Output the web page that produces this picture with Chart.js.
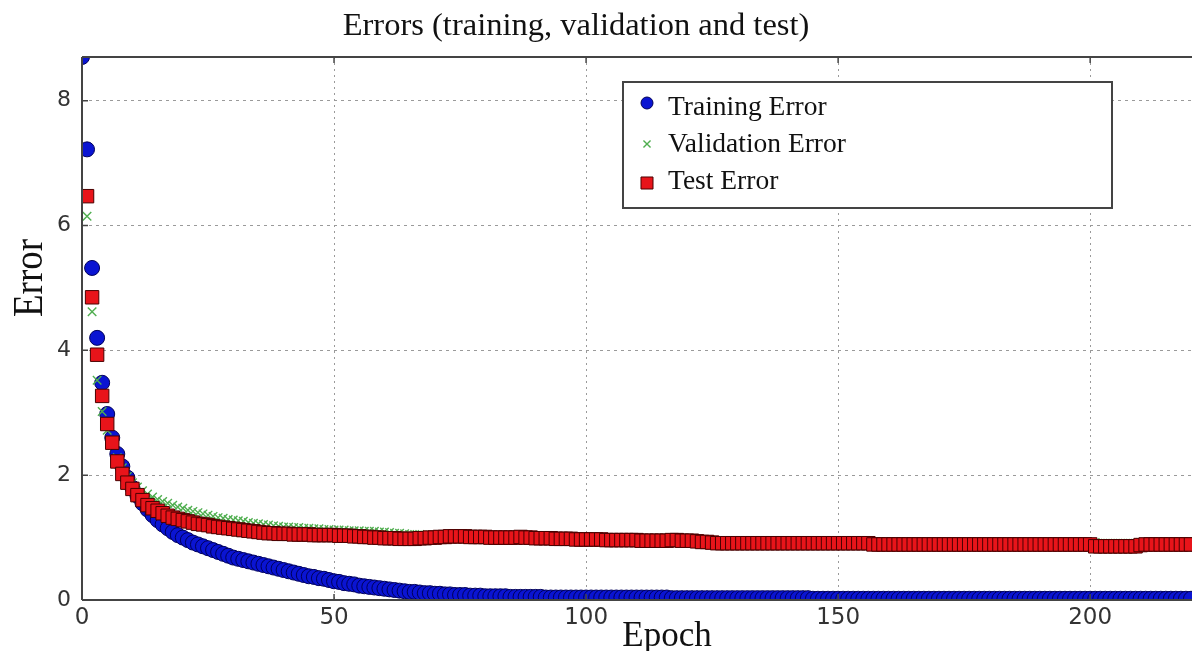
<!DOCTYPE html>
<html><head><meta charset="utf-8">
<style>html,body{margin:0;padding:0;background:#fff;overflow:hidden}canvas{display:block}</style>
<script src="https://cdn.jsdelivr.net/npm/chart.js@4.4.1/dist/chart.umd.min.js"></script>
</head><body>
<canvas id="c" width="1192" height="651"></canvas>
<script>
const chartTitle = 'Errors (training, validation and test)';
const xAxisTitle = 'Epoch';
const yAxisTitle = 'Error';
const seriesLabels = ['Training Error', 'Validation Error', 'Test Error'];
const xTickStep = 50;
const yTickStep = 2;

const trainingError = [
8.70,7.22,5.32,4.20,3.48,2.98,2.60,2.34,2.14,1.96,
1.80,1.67,1.55,1.45,1.36,1.28,1.21,1.15,1.09,1.04,
1.00,0.96,0.92,0.89,0.86,0.83,0.80,0.77,0.74,0.71,
0.68,0.66,0.64,0.62,0.60,0.58,0.56,0.54,0.52,0.50,
0.48,0.46,0.44,0.42,0.40,0.38,0.37,0.35,0.34,0.32,
0.30,0.29,0.27,0.26,0.25,0.23,0.22,0.21,0.20,0.19,
0.18,0.17,0.16,0.15,0.14,0.13,0.13,0.12,0.11,0.11,
0.10,0.10,0.09,0.09,0.08,0.08,0.08,0.07,0.07,0.07,
0.06,0.06,0.06,0.06,0.06,0.05,0.05,0.05,0.05,0.05,
0.05,0.05,0.04,0.04,0.04,0.04,0.04,0.04,0.04,0.04,
0.04,0.04,0.04,0.04,0.04,0.04,0.04,0.04,0.04,0.04,
0.04,0.04,0.04,0.04,0.04,0.04,0.04,0.03,0.03,0.03,
0.03,0.03,0.03,0.03,0.03,0.03,0.03,0.03,0.03,0.03,
0.03,0.03,0.03,0.03,0.03,0.03,0.03,0.03,0.03,0.03,
0.03,0.03,0.03,0.03,0.03,0.02,0.02,0.02,0.02,0.02,
0.02,0.02,0.02,0.02,0.02,0.02,0.02,0.02,0.02,0.02,
0.02,0.02,0.02,0.02,0.02,0.02,0.02,0.02,0.02,0.02,
0.02,0.02,0.02,0.02,0.02,0.02,0.02,0.02,0.02,0.02,
0.02,0.02,0.02,0.02,0.02,0.02,0.02,0.02,0.02,0.02,
0.02,0.02,0.02,0.02,0.02,0.02,0.02,0.02,0.02,0.02,
0.02,0.02,0.02,0.02,0.02,0.02,0.02,0.02,0.02,0.02,
0.02,0.02,0.02,0.02,0.02,0.02,0.02,0.02,0.02,0.02,
0.02
];

const validationError = [
null,6.15,4.62,3.52,3.02,2.72,2.48,2.28,2.12,1.98,
1.88,1.81,1.75,1.70,1.65,1.61,1.58,1.55,1.52,1.49,
1.47,1.44,1.42,1.40,1.38,1.36,1.34,1.32,1.31,1.29,
1.28,1.27,1.26,1.24,1.23,1.22,1.21,1.20,1.19,1.18,
1.17,1.17,1.16,1.16,1.15,1.15,1.14,1.14,1.13,1.13,
1.12,1.12,1.12,1.11,1.11,1.11,1.10,1.10,1.10,1.09,
1.09,1.08,1.07,1.07,1.06,1.05,1.05,1.05,1.04,1.04,
1.04,1.04,1.04,1.04,1.04,1.04,1.03,1.03,1.03,1.03,
1.03,1.03,1.02,1.02,1.02,1.02,1.02,1.02,1.01,1.01,
1.01,1.01,1.01,1.00,1.00,1.00,1.00,1.00,0.99,0.99,
0.99,0.99,0.99,0.99,0.98,0.98,0.98,0.98,0.98,0.98,
0.98,0.97,0.97,0.97,0.97,0.97,0.97,0.97,0.97,0.96,
0.96,0.96,0.96,0.95,0.95,0.95,0.95,0.95,0.95,0.95,
0.95,0.95,0.95,0.94,0.94,0.94,0.94,0.94,0.94,0.94,
0.94,0.94,0.94,0.94,0.94,0.93,0.93,0.93,0.93,0.93,
0.93,0.93,0.93,0.93,0.93,0.93,0.93,0.93,0.93,0.93,
0.93,0.93,0.93,0.93,0.93,0.93,0.93,0.93,0.93,0.93,
0.93,0.93,0.93,0.93,0.93,0.93,0.93,0.93,0.93,0.93,
0.93,0.93,0.93,0.93,0.93,0.92,0.92,0.92,0.92,0.92,
0.92,0.92,0.92,0.92,0.92,0.92,0.92,0.92,0.92,0.92,
0.92,0.92,0.91,0.91,0.91,0.91,0.91,0.91,0.91,0.91,
0.92,0.92,0.92,0.92,0.92,0.92,0.92,0.92,0.92,0.92,
0.92
];

const testError = [
null,6.47,4.85,3.93,3.27,2.82,2.52,2.22,2.02,1.88,
1.78,1.68,1.60,1.52,1.47,1.43,1.39,1.35,1.32,1.30,
1.28,1.26,1.24,1.22,1.21,1.20,1.18,1.17,1.16,1.15,
1.14,1.13,1.12,1.11,1.10,1.09,1.08,1.07,1.07,1.06,
1.06,1.06,1.05,1.05,1.05,1.05,1.04,1.04,1.04,1.04,
1.04,1.03,1.03,1.03,1.02,1.02,1.01,1.01,1.00,1.00,
0.99,0.99,0.99,0.98,0.98,0.98,0.98,0.99,0.99,1.00,
1.00,1.01,1.01,1.02,1.02,1.02,1.02,1.01,1.01,1.01,
1.01,1.00,1.00,1.00,1.00,1.00,1.00,1.01,1.00,1.00,
0.99,0.99,0.99,0.99,0.98,0.98,0.98,0.98,0.97,0.97,
0.97,0.97,0.97,0.97,0.96,0.96,0.96,0.96,0.96,0.96,
0.96,0.95,0.95,0.95,0.95,0.95,0.95,0.96,0.96,0.95,
0.95,0.95,0.94,0.93,0.93,0.92,0.91,0.91,0.91,0.91,
0.91,0.91,0.91,0.91,0.91,0.91,0.91,0.91,0.91,0.91,
0.91,0.91,0.91,0.91,0.91,0.91,0.91,0.91,0.91,0.91,
0.91,0.91,0.91,0.91,0.91,0.91,0.91,0.89,0.89,0.89,
0.89,0.89,0.89,0.89,0.89,0.89,0.89,0.89,0.89,0.89,
0.89,0.89,0.89,0.89,0.89,0.89,0.89,0.89,0.89,0.89,
0.89,0.89,0.89,0.89,0.89,0.89,0.89,0.89,0.89,0.89,
0.89,0.89,0.89,0.89,0.89,0.89,0.89,0.89,0.89,0.89,
0.89,0.86,0.86,0.86,0.86,0.86,0.86,0.86,0.86,0.86,
0.88,0.89,0.89,0.89,0.89,0.89,0.89,0.89,0.89,0.89,
0.89
];

const epochs = trainingError.map((_, i) => i);
const toPoints = arr => arr.map((v, i) => ({x: epochs[i], y: v})).filter(p => p.y !== null);

const AXIS_COLOR = '#444';
const TEXT_COLOR = '#111';
const SERIF = '"Liberation Serif", "Times New Roman", serif';

const decor = {
  id: 'decor',
  afterDatasetsDraw(chart) {
    const {ctx, chartArea: a, scales} = chart;
    ctx.save();
    ctx.strokeStyle = AXIS_COLOR;
    ctx.lineWidth = 2;
    ctx.setLineDash([]);
    ctx.beginPath();
    ctx.moveTo(a.left, a.top); ctx.lineTo(a.right, a.top);
    ctx.moveTo(a.left, a.top); ctx.lineTo(a.left, a.bottom);
    ctx.moveTo(a.left, a.bottom); ctx.lineTo(a.right, a.bottom);
    ctx.stroke();
    ctx.lineWidth = 1.5;
    ctx.beginPath();
    scales.x.ticks.forEach(t => {
      const px = scales.x.getPixelForValue(t.value);
      if (t.value === 0) return;
      ctx.moveTo(px, a.bottom); ctx.lineTo(px, a.bottom - 6);
      ctx.moveTo(px, a.top); ctx.lineTo(px, a.top + 6);
    });
    scales.y.ticks.forEach(t => {
      const py = scales.y.getPixelForValue(t.value);
      if (t.value === 0) return;
      ctx.moveTo(a.left, py); ctx.lineTo(a.left + 6, py);
    });
    ctx.stroke();
    ctx.restore();
  },
  afterDraw(chart) {
    const {ctx} = chart;
    ctx.save();
    ctx.fillStyle = TEXT_COLOR;
    ctx.font = '32.5px ' + SERIF;
    ctx.textAlign = 'center';
    ctx.textBaseline = 'alphabetic';
    ctx.fillText(chartTitle, 576, 35);
    ctx.font = '35px ' + SERIF;
    ctx.fillText(xAxisTitle, 667, 646);
    ctx.save();
    ctx.translate(42, 278);
    ctx.rotate(-Math.PI / 2);
    ctx.scale(1, 1.15);
    ctx.font = '37px ' + SERIF;
    ctx.fillText(yAxisTitle, 0, 0);
    ctx.restore();

    const bx = 623, by = 82, bw = 489, bh = 126;
    ctx.fillStyle = '#fff';
    ctx.fillRect(bx, by, bw, bh);
    ctx.strokeStyle = AXIS_COLOR;
    ctx.lineWidth = 2;
    ctx.strokeRect(bx, by, bw, bh);
    const rows = [
      {mark: 103, base: 115, r: 6},
      {mark: 144, base: 152, r: 5},
      {mark: 183, base: 189, r: 8.5}
    ];
    [0, 1, 2].forEach((di, k) => {
      const ds = chart.data.datasets[di];
      ctx.save();
      ctx.fillStyle = ds.backgroundColor;
      ctx.strokeStyle = ds.borderColor;
      ctx.lineWidth = ds.borderWidth;
      Chart.helpers.drawPoint(ctx, {pointStyle: ds.pointStyle, radius: rows[k].r, rotation: 0, borderWidth: ds.borderWidth}, 647, rows[k].mark);
      ctx.restore();
      ctx.fillStyle = TEXT_COLOR;
      ctx.font = '27.5px ' + SERIF;
      ctx.textAlign = 'left';
      ctx.fillText(ds.label, 668, rows[k].base);
    });
    ctx.restore();
  }
};

new Chart(document.getElementById('c').getContext('2d'), {
  type: 'scatter',
  data: {
    datasets: [
      {label: seriesLabels[0], data: toPoints(trainingError), pointStyle: 'circle', pointRadius: 7.5,
       backgroundColor: '#0a14d2', borderColor: '#00005a', borderWidth: 1, order: 2, clip: 0},
      {label: seriesLabels[1], data: toPoints(validationError), pointStyle: 'crossRot', pointRadius: 6,
       backgroundColor: '#4fae4f', borderColor: '#4fae4f', borderWidth: 1.4, order: 1, clip: 0},
      {label: seriesLabels[2], data: toPoints(testError), pointStyle: 'rect', pointRadius: 9.5,
       backgroundColor: '#e8141a', borderColor: '#4a0000', borderWidth: 1, order: 0, clip: 0}
    ]
  },
  options: {
    responsive: false,
    animation: false,
    events: [],
    layout: {autoPadding: false, padding: {top: 57, left: 0, right: 0, bottom: 0}},
    plugins: {legend: {display: false}, tooltip: {enabled: false}, title: {display: false}},
    scales: {
      x: {
        type: 'linear', min: 0, max: 220.2,
        afterFit(s) { s.height = 51; s.paddingLeft = 0; s.paddingRight = 0; },
        ticks: {stepSize: xTickStep, includeBounds: false, padding: 4, maxRotation: 0,
                font: {family: '"DejaVu Sans"', size: 23}, color: '#333'},
        grid: {color: '#9a9a9a', lineWidth: 1, drawTicks: false},
        border: {display: false, dash: [2, 4]}
      },
      y: {
        type: 'linear', min: 0, max: 8.7,
        afterFit(s) { s.width = 82; s.paddingTop = 0; s.paddingBottom = 0; },
        ticks: {stepSize: yTickStep, includeBounds: false, padding: 11,
                font: {family: '"DejaVu Sans"', size: 22}, color: '#333'},
        grid: {color: '#9a9a9a', lineWidth: 1, drawTicks: false},
        border: {display: false, dash: [3, 4]}
      }
    }
  },
  plugins: [decor]
});
</script>
</body></html>
